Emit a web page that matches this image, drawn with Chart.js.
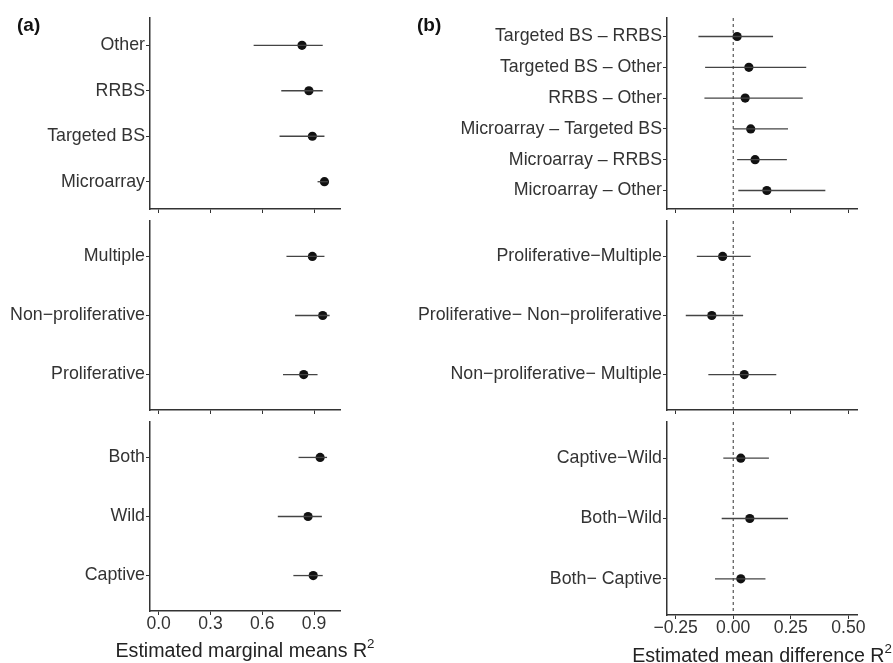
<!DOCTYPE html>
<html>
<head>
<meta charset="utf-8">
<script src="https://cdn.jsdelivr.net/npm/chart.js@4.4.1/dist/chart.umd.min.js"></script>
<style>
  body { margin: 0; background: #fff; }
  #wrap { position: relative; width: 893px; height: 663px; overflow: hidden; }
  #wrap canvas { position: absolute; left: 0; top: 0; }
  .tag { position: absolute; font: bold 19px "Liberation Sans", Arial, sans-serif; color: #111; line-height: 22px; }
  .xtitle { position: absolute; width: 400px; text-align: center; font: 19.6px "Liberation Sans", Arial, sans-serif;
            color: #222; line-height: 22px; white-space: nowrap; }
  .xtitle sup { font-size: 0.68em; line-height: 0; position: relative; top: -0.1em; }
</style>
</head>
<body>
<div id="wrap">
  <canvas id="a1" width="893" height="663"></canvas>
  <canvas id="a2" width="893" height="663"></canvas>
  <canvas id="a3" width="893" height="663"></canvas>
  <canvas id="b1" width="893" height="663"></canvas>
  <canvas id="b2" width="893" height="663"></canvas>
  <canvas id="b3" width="893" height="663"></canvas>
  <div class="tag" style="left:17px; top:14px;">(a)</div>
  <div class="tag" style="left:417px; top:14px;">(b)</div>
  <div class="xtitle" style="left:45px; top:639px;">Estimated marginal means R<sup>2</sup></div>
  <div class="xtitle" style="left:562px; top:644px;">Estimated mean difference R<sup>2</sup></div>
</div>
<script>
// (a) estimated marginal means with 95% CI
const methodCats = ['Other', 'RRBS', 'Targeted BS', 'Microarray'];
const methodEst  = [0.83, 0.87, 0.89, 0.96];
const methodLo   = [0.55, 0.71, 0.70, 0.92];
const methodHi   = [0.95, 0.95, 0.96, 0.98];

const tissueCats = ['Multiple', 'Non\u2212proliferative', 'Proliferative'];
const tissueEst  = [0.89, 0.95, 0.84];
const tissueLo   = [0.74, 0.79, 0.72];
const tissueHi   = [0.96, 0.99, 0.92];

const originCats = ['Both', 'Wild', 'Captive'];
const originEst  = [0.935, 0.865, 0.895];
const originLo   = [0.81, 0.69, 0.78];
const originHi   = [0.975, 0.945, 0.95];

// (b) pairwise mean differences with 95% CI
const methodDiffCats = ['Targeted BS \u2013 RRBS', 'Targeted BS \u2013 Other', 'RRBS \u2013 Other',
                        'Microarray \u2013 Targeted BS', 'Microarray \u2013 RRBS', 'Microarray \u2013 Other'];
const methodDiffEst  = [0.017, 0.068, 0.052, 0.076, 0.095, 0.146];
const methodDiffLo   = [-0.151, -0.122, -0.125, 0.0, 0.017, 0.022];
const methodDiffHi   = [0.173, 0.317, 0.302, 0.238, 0.233, 0.40];

const tissueDiffCats = ['Proliferative\u2212Multiple', 'Proliferative\u2212 Non\u2212proliferative', 'Non\u2212proliferative\u2212 Multiple'];
const tissueDiffEst  = [-0.046, -0.093, 0.048];
const tissueDiffLo   = [-0.158, -0.206, -0.108];
const tissueDiffHi   = [0.076, 0.043, 0.187];

const originDiffCats = ['Captive\u2212Wild', 'Both\u2212Wild', 'Both\u2212 Captive'];
const originDiffEst  = [0.033, 0.072, 0.033];
const originDiffLo   = [-0.043, -0.050, -0.079];
const originDiffHi   = [0.155, 0.238, 0.140];

// axis ticks
const ticksA = [0, 0.3, 0.6, 0.9];
const ticksB = [-0.25, 0, 0.25, 0.5];

const W = 893, H = 663;
const INK = '#333';
Chart.defaults.font.family = '"Liberation Sans", Arial, Helvetica, sans-serif';

// dashed reference line at zero
const zeroLine = {
    id: 'zeroLine',
    beforeDatasetsDraw(chart, args, opts) {
        if (opts.value === null || opts.value === undefined) return;
        const { ctx, chartArea, scales } = chart;
        const x = scales.x.getPixelForValue(opts.value);
        ctx.save();
        ctx.strokeStyle = '#333';
        ctx.lineWidth = 1;
        ctx.setLineDash([3, 3]);
        ctx.beginPath();
        ctx.moveTo(x, chartArea.top);
        ctx.lineTo(x, chartArea.bottom);
        ctx.stroke();
        ctx.restore();
    }
};

function facet(id, cats, est, lo, hi, box, ax) {
    const ciSets = cats.map((c, i) => ({
        data: [{ x: lo[i], y: i }, { x: hi[i], y: i }],
        showLine: true,
        borderColor: '#444',
        borderWidth: 1.3,
        pointRadius: 0
    }));
    const pointSet = {
        data: est.map((v, i) => ({ x: v, y: i })),
        backgroundColor: '#111',
        borderWidth: 0,
        pointRadius: 4.6
    };

    const axisGrid = { display: true, drawOnChartArea: false, drawTicks: true, tickLength: 4, color: INK, lineWidth: 1 };
    const axisBorder = { display: true, color: INK, width: 1.5 };

    new Chart(document.getElementById(id), {
        type: 'scatter',
        data: { datasets: [...ciSets, pointSet] },
        options: {
            responsive: false,
            animation: false,
            layout: { padding: { left: 0, top: box.top, right: W - box.right, bottom: 0 } },
            plugins: {
                legend: { display: false },
                tooltip: { enabled: false },
                zeroLine: { value: ax.ref }
            },
            scales: {
                x: {
                    type: 'linear',
                    min: ax.min,
                    max: ax.max,
                    afterBuildTicks: s => { s.ticks = ax.ticks.map(v => ({ value: v })); },
                    afterFit: s => { s.height = H - box.bottom; },
                    ticks: {
                        display: ax.labels,
                        autoSkip: false,
                        maxRotation: 0,
                        padding: -1,
                        color: INK,
                        font: { size: 17.6 },
                        callback: ax.fmt
                    },
                    grid: axisGrid,
                    border: axisBorder
                },
                y: {
                    type: 'linear',
                    reverse: true,
                    min: -0.6,
                    max: cats.length - 0.4,
                    afterBuildTicks: s => { s.ticks = cats.map((c, i) => ({ value: i })); },
                    afterFit: s => { s.width = box.left; },
                    ticks: {
                        autoSkip: false,
                        padding: 1,
                        color: INK,
                        font: { size: 17.8 },
                        callback: (v, i) => cats[i]
                    },
                    grid: axisGrid,
                    border: axisBorder
                }
            }
        },
        plugins: [zeroLine]
    });
}

const fmtA = v => v.toFixed(1);
const fmtB = v => (v < 0 ? '\u2212' : '') + Math.abs(v).toFixed(2);

const axA = { min: -0.05, max: 1.05, ticks: ticksA, fmt: fmtA, ref: null };
const axB = { min: -0.2875, max: 0.5375, ticks: ticksB, fmt: fmtB, ref: 0 };

facet('a1', methodCats, methodEst, methodLo, methodHi, { left: 150, top: 18, right: 340, bottom: 209 }, { ...axA, labels: false });
facet('a2', tissueCats, tissueEst, tissueLo, tissueHi, { left: 150, top: 221, right: 340, bottom: 410 }, { ...axA, labels: false });
facet('a3', originCats, originEst, originLo, originHi, { left: 150, top: 422, right: 340, bottom: 611 }, { ...axA, labels: true });

facet('b1', methodDiffCats, methodDiffEst, methodDiffLo, methodDiffHi, { left: 667, top: 18, right: 857, bottom: 209 }, { ...axB, labels: false });
facet('b2', tissueDiffCats, tissueDiffEst, tissueDiffLo, tissueDiffHi, { left: 667, top: 221, right: 857, bottom: 410 }, { ...axB, labels: false });
facet('b3', originDiffCats, originDiffEst, originDiffLo, originDiffHi, { left: 667, top: 422, right: 857, bottom: 615 }, { ...axB, labels: true });
</script>
</body>
</html>
